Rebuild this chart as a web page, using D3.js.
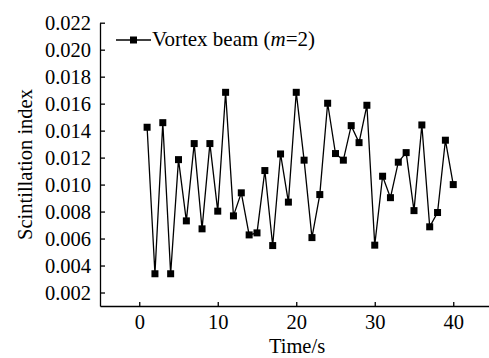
<!DOCTYPE html>
<html><head><meta charset="utf-8">
<script src="https://cdn.jsdelivr.net/npm/d3@7"></script>
<style>
body{margin:0;background:#fff;}
svg{display:block;}
</style></head>
<body>
<script>
const times = d3.range(1, 41);
const scintillation = [
  0.01425, 0.00339, 0.01459, 0.00339, 0.01185, 0.00731, 0.01304, 0.00672, 0.01304, 0.00803,
  0.01684, 0.00768, 0.00939, 0.00627, 0.00642, 0.01104, 0.00548, 0.01227, 0.00870, 0.01684,
  0.01181, 0.00607, 0.00926, 0.01603, 0.01230, 0.01181, 0.01437, 0.01311, 0.01588, 0.00551,
  0.01062, 0.00903, 0.01166, 0.01237, 0.00807, 0.01442, 0.00687, 0.00793, 0.01329, 0.01000
];
const xTicks = [0, 10, 20, 30, 40];
const yTicks = [0.002, 0.004, 0.006, 0.008, 0.010, 0.012, 0.014, 0.016, 0.018, 0.020, 0.022];
const seriesName = "Vortex beam";

const W = 489, H = 358;
const FONT = '"Liberation Serif", "Times New Roman", serif';
const svg = d3.select("body").append("svg").attr("width", W).attr("height", H)
  .style("font-family", FONT);

const x = d3.scaleLinear().domain([-5, 45]).range([100, 492.5]);
const y = d3.scaleLinear().domain([0.001, 0.022]).range([306, 22.7]);

const fs = 20.5;

const xAxis = svg.append("g").attr("transform", "translate(0,306)")
  .call(d3.axisBottom(x).tickValues(xTicks).tickFormat(d3.format("d")).tickSizeInner(-4).tickSizeOuter(0).tickPadding(8.5));
const yAxis = svg.append("g").attr("transform", "translate(100,0)")
  .call(d3.axisLeft(y).tickValues(yTicks).tickFormat(d3.format(".3f")).tickSizeInner(-5).tickSizeOuter(0).tickPadding(9));

[xAxis, yAxis].forEach(g => {
  g.attr("font-family", null).attr("font-size", null);
  g.selectAll("path,line").attr("stroke", "#000").attr("stroke-width", 1.3);
  g.selectAll("text").style("font-family", FONT).style("font-size", fs + "px").attr("fill", "#000");
});

// line
svg.append("path")
  .datum(times.map((t, i) => [t, scintillation[i]]))
  .attr("fill", "none").attr("stroke", "#000").attr("stroke-width", 1.3)
  .attr("d", d3.line().x(d => x(d[0])).y(d => y(d[1])));

const ms = 7;
svg.append("g").selectAll("rect")
  .data(times.map((t, i) => [t, scintillation[i]]))
  .join("rect")
  .attr("x", d => x(d[0]) - ms / 2).attr("y", d => y(d[1]) - ms / 2)
  .attr("width", ms).attr("height", ms).attr("fill", "#000");

// legend
const ly = 40;
svg.append("line").attr("x1", 116).attr("x2", 151).attr("y1", ly).attr("y2", ly)
  .attr("stroke", "#000").attr("stroke-width", 1.3);
svg.append("rect").attr("x", 133.5 - ms / 2).attr("y", ly - ms / 2).attr("width", ms).attr("height", ms).attr("fill", "#000");
const lt = svg.append("text").attr("x", 152).attr("y", 46).style("font-family", FONT).style("font-size", "21px");
lt.append("tspan").text(seriesName + " (");
lt.append("tspan").attr("font-style", "italic").text("m");
lt.append("tspan").text("=2)");

// axis titles
svg.append("text").attr("x", 297).attr("y", 353).attr("text-anchor", "middle")
  .style("font-family", FONT).style("font-size", fs + "px").text("Time/s");
svg.append("text").attr("transform", "translate(31.5,164.5) rotate(-90)").attr("text-anchor", "middle")
  .style("font-family", FONT).style("font-size", fs + "px").text("Scintillation index");
</script>
</body></html>
